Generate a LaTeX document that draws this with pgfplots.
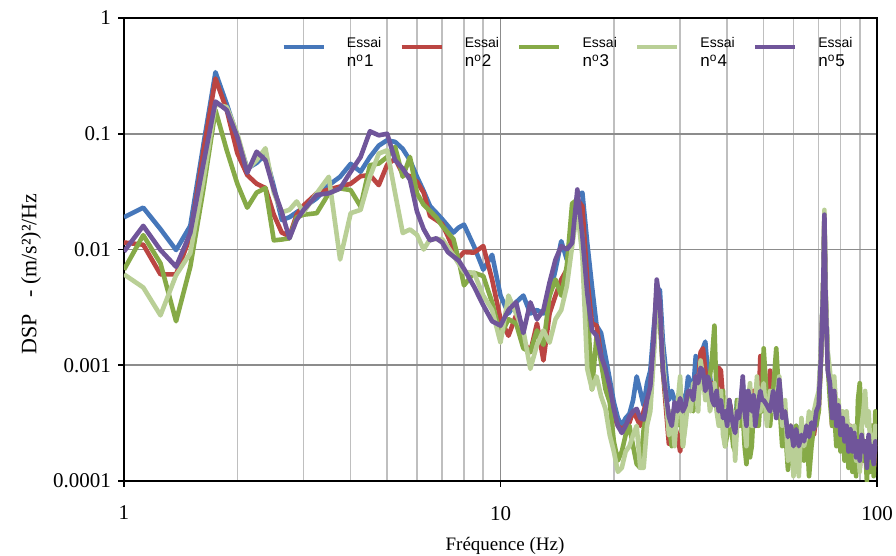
\documentclass[border=0pt]{standalone}
\usepackage{fontspec}
\setmainfont{Liberation Serif}
\newfontfamily\arial{Liberation Sans}
\usepackage{pgfplots}
\usepackage{pgfplotstable}
\pgfplotsset{compat=1.18}
\definecolor{cB}{HTML}{4677BA}
\definecolor{cR}{HTML}{BB4542}
\definecolor{cG}{HTML}{86AA47}
\definecolor{cL}{HTML}{B9CF96}
\definecolor{cP}{HTML}{70559A}
\newcommand\leg[1]{\arial\fontsize{7}{9.5}\selectfont\begin{tabular}[c]{@{}l@{}}Essai\\\fontsize{8.5}{9.5}\selectfont n\textsuperscript{o}#1\end{tabular}}
\pgfplotstableread{
f b r g l p
1 0.019 0.0115 0.0067 0.0061 0.0096
1.125 0.023 0.011 0.0133 0.0047 0.016
1.25 0.015 0.0061 0.0076 0.0027 0.0099
1.375 0.0099 0.0061 0.0024 0.006 0.0071
1.5 0.016 0.013 0.0071 0.0093 0.0139
1.625 0.08 0.07 0.033 0.04 0.055
1.75 0.34 0.30 0.16 0.18 0.19
1.875 0.18 0.16 0.072 0.17 0.16
2 0.095 0.068 0.037 0.10 0.094
2.125 0.05 0.044 0.023 0.049 0.046
2.25 0.056 0.037 0.031 0.059 0.07
2.375 0.066 0.034 0.034 0.075 0.059
2.5 0.035 0.02 0.012 0.031 0.033
2.625 0.018 0.014 0.0122 0.021 0.021
2.75 0.019 0.013 0.0125 0.022 0.0125
2.875 0.021 0.02 0.019 0.026 0.018
3 0.023 0.024 0.02 0.021 0.022
3.25 0.0277 0.0306 0.0206 0.0306 0.0296
3.5 0.036 0.033 0.0306 0.0425 0.0306
3.75 0.0425 0.035 0.0337 0.0082 0.0337
4 0.055 0.037 0.0326 0.0206 0.047
4.25 0.047 0.043 0.0235 0.022 0.063
4.5 0.063 0.044 0.0535 0.0425 0.105
4.75 0.079 0.036 0.0553 0.0674 0.097
5 0.088 0.054 0.063 0.072 0.10
5.25 0.085 0.061 0.077 0.0306 0.059
5.5 0.074 0.045 0.0425 0.0139 0.05
5.75 0.059 0.043 0.063 0.0149 0.04
6 0.0425 0.0385 0.0306 0.0134 0.0213
6.25 0.032 0.031 0.0243 0.010 0.015
6.5 0.0237 0.0195 0.0215 0.0123 0.012
6.75 0.0208 0.018 0.019 0.0123 0.0125
7 0.0183 0.0166 0.016 0.0123 0.0115
7.25 0.016 0.013 0.014 0.0105 0.0095
7.5 0.014 0.0101 0.0123 0.0089 0.0087
7.75 0.0155 0.0085 0.008 0.0075 0.008
8 0.0164 0.0095 0.0049 0.0064 0.0068
8.5 0.0107 0.0094 0.0063 0.0063 0.0048
9 0.0067 0.0107 0.0059 0.004 0.0033
9.5 0.009 0.0055 0.0035 0.003 0.0024
10 0.004 0.0025 0.0018 0.00157 0.0022
10.5 0.0028 0.0018 0.0025 0.004 0.003
11 0.0035 0.0027 0.0023 0.0028 0.0035
11.5 0.004 0.0016 0.0014 0.002 0.0019
12 0.0028 0.0013 0.0013 0.00093 0.0035
12.5 0.003 0.0023 0.002 0.0015 0.0025
13 0.0028 0.0011 0.0015 0.002 0.003
13.5 0.004 0.0028 0.004 0.00157 0.0052
14 0.0067 0.004 0.0055 0.0025 0.0082
14.5 0.0118 0.0055 0.004 0.003 0.0107
15 0.0082 0.0067 0.0072 0.0048 0.010
15.5 0.013 0.0194 0.025 0.0107 0.0114
16 0.029 0.027 0.027 0.022 0.033
16.5 0.031 0.0236 0.013 0.0088 0.013
17 0.0114 0.0055 0.0035 0.00093 0.0042
17.5 0.0048 0.0023 0.00062 0.00062 0.002
18 0.0022 0.0022 0.0018 0.0008 0.0018
18.5 0.0019 0.0012 0.00106 0.00054 0.0012
19 0.0012 0.0008 0.00062 0.00042 0.00093
19.5 0.00076 0.00054 0.00048 0.00025 0.00066
20 0.00048 0.00037 0.00022 0.00018 0.00042
20.5 0.00035 0.0003 0.00015 0.00012 0.0003
21 0.00030 0.00028 0.00018 0.00013 0.00026
21.5 0.00035 0.0003 0.00025 0.00018 0.0003
22 0.00038 0.00032 0.00030 0.00020 0.00036
22.5 0.0005 0.0004 0.0002 0.00025 0.0004
23 0.00080 0.00035 0.00014 0.00030 0.00042
23.5 0.0006 0.0003 0.00013 0.00013 0.00035
24 0.00045 0.00040 0.00028 0.00013 0.00034
24.5 0.0007 0.0005 0.0004 0.0003 0.0005
25 0.0009 0.0006 0.0005 0.0004 0.00066
25.5 0.0020 0.0015 0.0012 0.0011 0.0016
26 0.0040 0.0045 0.0042 0.0038 0.0055
26.5 0.0045 0.0030 0.0025 0.0030 0.0035
27 0.0016 0.0009 0.0009 0.0012 0.0009
28 0.0005 0.00021 0.00030 0.00025 0.00036
28.5 0.0006 0.0004 0.0002 0.0004 0.0003
29 0.0005 0.0003 0.00035 0.0002 0.00048
29.5 0.0004 0.00025 0.0003 0.00045 0.0004
30 0.0006 0.00018 0.00045 0.0008 0.00052
30.5 0.0005 0.0003 0.0002 0.0002 0.0004
31 0.0005 0.0004 0.00035 0.0003 0.00045
31.5 0.0008 0.0005 0.0006 0.0005 0.0006
32 0.0007 0.0006 0.0005 0.0004 0.0006
32.5 0.0006 0.0005 0.0004 0.0007 0.0005
33 0.0012 0.0008 0.0007 0.0006 0.0008
33.5 0.0009 0.0007 0.0005 0.0004 0.0007
34 0.0010 0.0013 0.0009 0.0011 0.00095
34.5 0.0014 0.0014 0.0007 0.0008 0.0009
35 0.0016 0.0009 0.0007 0.0005 0.0006
35.5 0.0009 0.0006 0.0005 0.0007 0.0008
36 0.0008 0.0006 0.0008 0.0004 0.0007
36.5 0.0006 0.0007 0.0012 0.0005 0.0005
37 0.0006 0.0005 0.0022 0.0007 0.00045
37.5 0.0005 0.0006 0.0005 0.0004 0.0006
38 0.0005 0.00095 0.0004 0.0003 0.0004
38.5 0.0006 0.0009 0.0003 0.0006 0.0005
39 0.0004 0.0005 0.0006 0.00025 0.00035
39.5 0.0003 0.0003 0.0002 0.0002 0.0004
40 0.00035 0.0003 0.00025 0.0005 0.0003
40.5 0.0005 0.0005 0.0004 0.0003 0.0005
41 0.0004 0.0004 0.0003 0.00035 0.00038
41.5 0.0003 0.0003 0.0002 0.0004 0.0003
42 0.0003 0.00022 0.00018 0.00015 0.00026
42.5 0.0005 0.0004 0.0005 0.0003 0.0004
43 0.0004 0.0003 0.00035 0.0005 0.00035
43.5 0.0005 0.0004 0.0003 0.0004 0.0005
44 0.0007 0.0006 0.0004 0.0006 0.0008
44.5 0.0004 0.0003 0.0002 0.0003 0.0004
45 0.00035 0.0003 0.00014 0.0002 0.0003
45.5 0.0006 0.0005 0.0003 0.0005 0.0006
46 0.0005 0.0004 0.00016 0.0007 0.0005
46.5 0.0004 0.0003 0.0002 0.0003 0.0004
47 0.0005 0.0006 0.0004 0.0003 0.00055
47.5 0.0004 0.0004 0.0003 0.0005 0.0003
48 0.0004 0.0003 0.0006 0.0008 0.0004
48.5 0.0006 0.0005 0.0003 0.0004 0.0005
49 0.0006 0.0012 0.0005 0.0004 0.0006
49.5 0.0005 0.0008 0.0004 0.0006 0.0005
50 0.0005 0.0006 0.0014 0.0007 0.0005
51 0.0005 0.0004 0.0005 0.0003 0.00045
52 0.0004 0.0009 0.0003 0.0006 0.0004
53 0.0006 0.0005 0.0006 0.0004 0.0006
54 0.0004 0.0004 0.0014 0.0005 0.00035
55 0.0007 0.0006 0.0005 0.0008 0.00075
56 0.0004 0.0003 0.0002 0.0003 0.00035
57 0.0004 0.0004 0.0003 0.0005 0.0004
58 0.00025 0.00018 0.000125 0.00015 0.00024
59 0.0003 0.0003 0.0002 0.0003 0.0003
60 0.0002 0.0002 0.00015 0.00011 0.0002
61 0.0003 0.00025 0.0003 0.0002 0.00028
62 0.00022 0.00015 0.0002 0.00011 0.0002
63 0.00028 0.0003 0.00025 0.00035 0.00025
64 0.00022 0.0002 0.00015 0.0002 0.00022
65 0.0003 0.00028 0.0003 0.00025 0.0003
66 0.00025 0.00018 0.00011 0.0004 0.00024
67 0.00035 0.0003 0.0002 0.0003 0.00032
68 0.0003 0.00025 0.0003 0.0004 0.00028
69 0.0004 0.00035 0.0003 0.0005 0.0004
70 0.0005 0.0004 0.0004 0.0006 0.00045
71 0.0013 0.0012 0.0011 0.0014 0.0012
72 0.005 0.005 0.005 0.006 0.005
72.5 0.017 0.018 0.02 0.022 0.02
73 0.004 0.004 0.0045 0.005 0.004
74 0.0012 0.0011 0.001 0.0013 0.0009
75 0.0006 0.0008 0.0005 0.0009 0.0007
76 0.0004 0.0003 0.0003 0.0005 0.00035
77 0.0006 0.0007 0.0004 0.0008 0.0006
78 0.0003 0.0003 0.0002 0.0004 0.0003
79 0.0004 0.0004 0.0003 0.0005 0.00045
80 0.00025 0.0002 0.00018 0.0003 0.00025
81 0.0003 0.0003 0.0003 0.0004 0.00035
82 0.0002 0.0002 0.00015 0.00025 0.00022
83 0.0003 0.00025 0.0003 0.0004 0.0003
84 0.0002 0.00015 0.00013 0.00025 0.00018
85 0.00025 0.0003 0.0002 0.0003 0.00028
86 0.00018 0.00015 0.00012 0.0002 0.00018
87 0.00025 0.0002 0.0002 0.0003 0.00026
88 0.00016 0.00014 0.00011 0.00015 0.00016
89 0.0002 0.00025 0.0005 0.0002 0.00022
90 0.00015 0.00013 0.0007 0.00012 0.00015
91 0.00022 0.0002 0.0003 0.0003 0.00025
92 0.00018 0.00016 0.00015 0.0004 0.00018
93 0.0002 0.00022 0.0002 0.0006 0.00022
94 0.00014 0.00012 0.0001 0.0003 0.00013
95 0.00022 0.0002 0.0002 0.0004 0.00025
96 0.00016 0.00014 0.00012 0.0002 0.00016
97 0.0002 0.0003 0.0003 0.00025 0.0002
98 0.00015 0.00012 0.00011 0.00018 0.00014
99 0.0002 0.00022 0.0004 0.0003 0.00022
100 0.00018 0.00017 0.00025 0.0002 0.00018
}\data
\begin{document}
\begin{tikzpicture}
\useasboundingbox (-62pt,-37.5pt) rectangle (386pt,240.5pt);
\begin{axis}[
  at={(0,0)}, anchor=south west,
  scale only axis, width=376.5pt, height=231.5pt,
  xmode=log, ymode=log,
  xmin=1, xmax=100, ymin=1e-4, ymax=1,
  axis line style={line width=1pt, black},
  xtick={1,10,100}, xticklabels={1,10,100},
  minor xtick={2,3,4,5,6,7,8,9,20,30,40,50,60,70,80,90},
  ytick={1e-4,1e-3,1e-2,1e-1,1}, yticklabels={0.0001,0.001,0.01,0.1,1},
  yminorticks=false,
  xmajorgrids, xminorgrids, ymajorgrids,
  major grid style={draw=black!45, line width=0.9pt},
  minor grid style={draw=black!25, line width=0.8pt},
  tick align=outside, tick pos=left,
  major tick length=3pt, minor tick length=0pt,
  tick style={black, line width=0.8pt},
  ticklabel style={font=\fontsize{10.5}{12}\selectfont},
  xticklabel style={yshift=-6pt},
  legend columns=5,
  legend cell align=left,
  legend style={draw=none, fill=none, inner sep=0pt, outer sep=0pt,
    at={(0.209,0.937)}, anchor=west,
    nodes={inner sep=0pt},
    /tikz/every odd column/.append style={column sep=10.5pt},
    /tikz/every even column/.append style={column sep=9pt}},
  legend image code/.code={\draw[#1, line cap=butt] (0pt,0pt) -- (20pt,0pt);},
  every axis plot/.append style={line width=2.3pt, line join=round},
]
\addplot[cB] table[x=f,y=b]{\data};
\addplot[cR] table[x=f,y=r]{\data};
\addplot[cG] table[x=f,y=g]{\data};
\addplot[cL] table[x=f,y=l]{\data};
\addplot[cP] table[x=f,y=p]{\data};
\legend{\leg{1},\leg{2},\leg{3},\leg{4},\leg{5}}
\end{axis}
\node[rotate=90, font=\fontsize{11}{13}\selectfont] at (-46.5pt,103.5pt) {DSP\ \ \ - (m/s²)²/Hz};
\node[font=\fontsize{9.5}{11}\selectfont] at (190.5pt,-32.5pt) {Fréquence (Hz)};
\end{tikzpicture}
\end{document}
